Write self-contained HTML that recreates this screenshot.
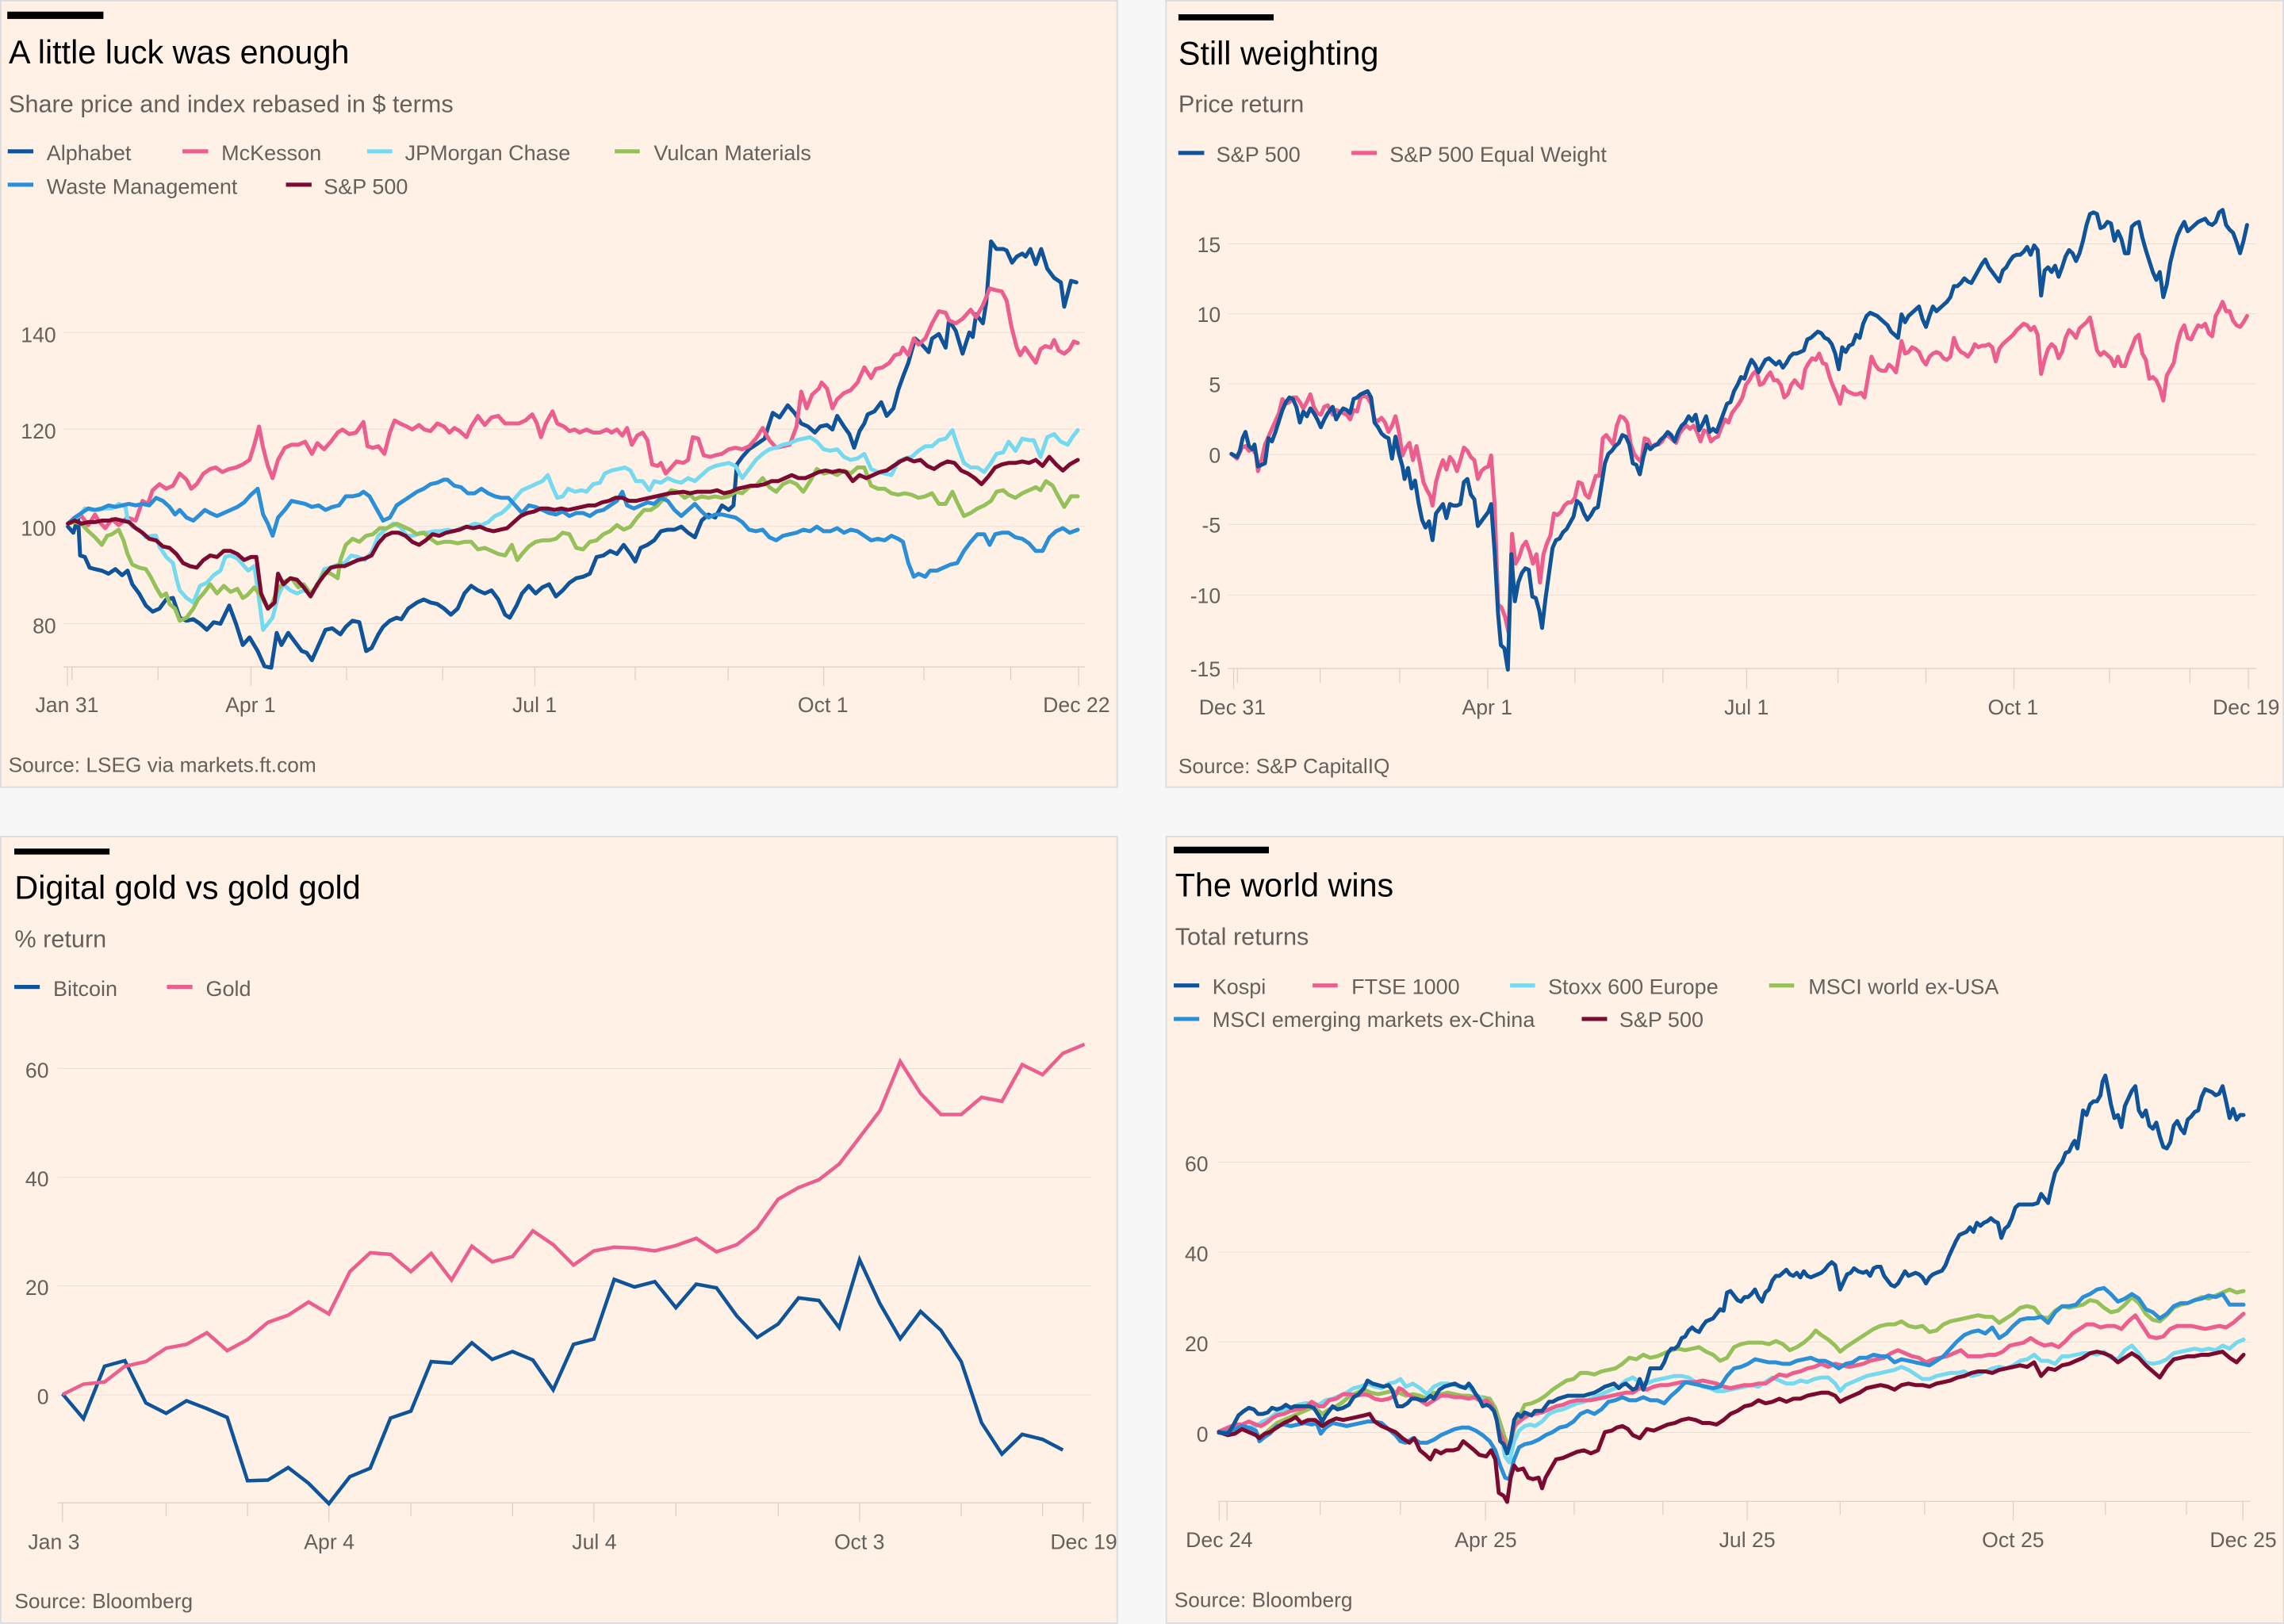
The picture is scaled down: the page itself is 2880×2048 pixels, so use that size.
<!DOCTYPE html>
<html>
<head>
<meta charset="utf-8">
<style>
html,body{margin:0;padding:0;background:#f7f7f7;}
body{width:2880px;height:2048px;overflow:hidden;}
svg{display:block;}
.t{font-family:"Liberation Sans",sans-serif;font-size:22.5px;fill:#000;}
.s{font-family:"Liberation Sans",sans-serif;font-size:16.7px;fill:#66605c;}
.l{font-family:"Liberation Sans",sans-serif;font-size:14.7px;fill:#66605c;}
.k{font-family:"Liberation Sans",sans-serif;font-size:14.5px;fill:#66605c;}
.src{font-family:"Liberation Sans",sans-serif;font-size:14.3px;fill:#66605c;}
.g{stroke:#eadfd5;stroke-width:1;vector-effect:non-scaling-stroke;fill:none;}
.ax{stroke:#dcd2c9;stroke-width:1.3;vector-effect:non-scaling-stroke;fill:none;}
.ln{fill:none;stroke-width:5;stroke-linejoin:round;stroke-linecap:round;vector-effect:non-scaling-stroke;}
.ln3{fill:none;stroke-width:4.5;stroke-linejoin:miter;stroke-linecap:butt;vector-effect:non-scaling-stroke;}
</style>
</head>
<body>
<svg width="2880" height="2048" viewBox="0 0 1568 1115" preserveAspectRatio="none" xmlns="http://www.w3.org/2000/svg">
<!-- panels -->
<rect x="0.5" y="0.5" width="766.5" height="540" fill="#fff1e5" stroke="#dcdcdc" stroke-width="1"/>
<rect x="800.5" y="0.5" width="767" height="540" fill="#fff1e5" stroke="#dcdcdc" stroke-width="1"/>
<rect x="0.5" y="574.4" width="766.5" height="540" fill="#fff1e5" stroke="#dcdcdc" stroke-width="1"/>
<rect x="800.7" y="574.4" width="767" height="540" fill="#fff1e5" stroke="#dcdcdc" stroke-width="1"/>

<!-- ================= PANEL 1 ================= -->
<rect x="5" y="8" width="66" height="5" fill="#000"/>
<text class="t" x="6" y="43.5">A little luck was enough</text>
<text class="s" x="6" y="77">Share price and index rebased in $ terms</text>
<rect x="5.3" y="102.5" width="17.6" height="2.8" fill="#0f5499"/><text class="l" x="32" y="110">Alphabet</text>
<rect x="125.3" y="102.5" width="17.6" height="2.8" fill="#eb5e8d"/><text class="l" x="152" y="110">McKesson</text>
<rect x="252" y="102.5" width="17.3" height="2.8" fill="#75d9f0"/><text class="l" x="278" y="110">JPMorgan Chase</text>
<rect x="422" y="102.5" width="17.2" height="2.8" fill="#96c15a"/><text class="l" x="448.8" y="110">Vulcan Materials</text>
<rect x="5.3" y="125.4" width="17.6" height="2.8" fill="#2a8fd6"/><text class="l" x="32" y="133">Waste Management</text>
<rect x="196.3" y="125.4" width="17.6" height="2.8" fill="#7a0a2f"/><text class="l" x="222.3" y="133">S&amp;P 500</text>

<path class="g" d="M43.4 228.3H745 M43.4 294.7H745 M43.4 361.4H745 M43.4 428.1H745"/>
<text class="k" x="38.5" y="234.8" text-anchor="end">140</text>
<text class="k" x="38.5" y="301.2" text-anchor="end">120</text>
<text class="k" x="38.5" y="367.9" text-anchor="end">100</text>
<text class="k" x="38.5" y="434.6" text-anchor="end">80</text>
<path class="ax" d="M43.4 457.9H745 M46.3 457.9V471 M49.4 457.9V467 M108.5 457.9V467 M172.3 457.9V471 M237.9 457.9V467 M303.9 457.9V467 M367.2 457.9V471 M436.1 457.9V467 M499.9 457.9V467 M565.5 457.9V471 M634.3 457.9V467 M693.9 457.9V467 M740.5 457.9V471"/>
<text class="k" x="46" y="489" text-anchor="middle">Jan 31</text>
<text class="k" x="172" y="489" text-anchor="middle">Apr 1</text>
<text class="k" x="367" y="489" text-anchor="middle">Jul 1</text>
<text class="k" x="565" y="489" text-anchor="middle">Oct 1</text>
<text class="k" x="739" y="489" text-anchor="middle">Dec 22</text>
<text class="src" x="5.8" y="530">Source: LSEG via markets.ft.com</text>

<g transform="matrix(0.4653,0,0,0.20834,32.667,147.0)">
<polyline class="ln" stroke="#0f5499" points="30,1030 38,1050 45,1000 48,1125 55,1130 62,1165 70,1170 80,1175 90,1185 100,1170 110,1190 118,1175 125,1220 135,1250 145,1290 155,1310 165,1300 175,1270 185,1265 195,1330 205,1340 215,1335 225,1350 235,1370 245,1345 255,1350 268,1290 278,1350 288,1420 298,1395 310,1440 320,1490 330,1495 338,1380 345,1420 355,1380 365,1410 375,1440 382,1445 390,1470 400,1420 410,1370 420,1365 432,1385 440,1360 450,1340 460,1345 470,1440 478,1430 488,1385 495,1360 505,1340 515,1330 522,1335 532,1300 545,1280 555,1270 565,1280 575,1285 585,1300 595,1320 605,1300 615,1250 625,1225 635,1240 645,1250 655,1240 665,1270 675,1320 682,1330 692,1290 700,1250 710,1225 720,1250 730,1230 740,1220 750,1260 760,1240 770,1215 780,1200 790,1195 800,1185 810,1130 820,1125 830,1110 840,1120 850,1090 860,1120 867,1145 875,1100 885,1090 895,1075 905,1045 915,1040 925,1040 935,1030 945,1050 955,1065 965,1010 975,990 985,1000 995,960 1005,975 1012,960 1017,825 1025,800 1035,775 1045,760 1058,740 1062,710 1070,655 1080,670 1092,630 1102,655 1112,690 1122,700 1132,720 1140,700 1150,695 1158,710 1165,665 1175,700 1183,725 1190,770 1198,715 1205,690 1210,660 1220,650 1230,620 1238,665 1248,640 1255,580 1263,530 1270,490 1280,410 1290,430 1300,455 1305,410 1315,395 1325,440 1330,350 1340,385 1350,460 1360,390 1365,405 1370,330 1380,360 1385,290 1392,90 1400,115 1410,115 1415,120 1423,160 1430,140 1438,130 1443,140 1450,115 1458,165 1466,115 1475,180 1485,210 1495,225 1500,305 1510,220 1518,225"/>
<polyline class="ln" stroke="#eb5e8d" points="30,1020 40,1000 50,995 60,1025 70,990 75,1010 85,1035 95,1005 105,1025 118,1000 130,1010 140,945 148,955 155,910 165,890 175,905 185,895 195,855 205,875 212,905 220,890 230,855 240,840 248,835 258,850 268,840 278,835 288,825 298,810 305,760 312,700 318,770 325,830 332,870 340,810 350,770 360,760 370,760 380,750 390,790 398,755 408,775 418,750 428,720 435,710 445,725 455,720 466,685 472,765 480,770 488,765 497,790 505,720 512,680 520,690 530,700 538,710 548,695 556,710 565,715 575,690 585,700 593,720 600,705 608,715 618,735 625,700 635,665 645,695 655,670 665,665 675,690 685,690 695,690 705,680 715,660 722,690 728,735 735,690 745,650 752,690 762,700 770,715 778,710 785,720 795,710 805,720 815,720 825,710 832,720 840,710 848,730 855,705 862,760 870,730 878,720 885,745 892,825 900,830 905,820 912,855 920,835 928,815 938,820 945,810 952,735 960,740 968,795 978,800 985,795 995,790 1005,775 1015,770 1025,775 1035,765 1045,740 1055,705 1065,745 1075,770 1085,765 1095,760 1105,700 1112,585 1120,640 1128,595 1138,575 1142,555 1150,575 1158,640 1165,610 1175,590 1185,580 1195,555 1205,505 1215,540 1222,510 1232,505 1242,490 1250,465 1258,460 1262,440 1270,465 1278,410 1285,430 1295,410 1305,360 1315,320 1325,325 1330,350 1340,360 1350,345 1362,315 1370,340 1380,300 1390,245 1398,250 1408,255 1415,285 1422,370 1430,440 1435,465 1442,440 1450,465 1458,490 1465,445 1472,435 1480,440 1485,415 1492,450 1500,460 1508,445 1514,420 1520,425"/>
<polyline class="ln" stroke="#75d9f0" points="30,1020 40,1005 50,985 55,970 65,975 75,975 85,970 95,970 105,955 115,965 118,1005 125,1030 135,1040 145,1065 155,1060 160,1060 165,1095 175,1130 185,1150 190,1200 195,1240 205,1265 215,1280 225,1225 235,1215 245,1190 255,1175 262,1130 270,1125 280,1135 288,1155 296,1175 305,1160 312,1270 318,1370 325,1350 332,1330 340,1260 348,1220 358,1240 368,1250 378,1240 388,1250 398,1225 408,1170 418,1165 428,1155 438,1150 448,1125 458,1130 468,1140 478,1115 488,1060 498,1040 510,1020 520,1030 530,1060 540,1060 550,1050 560,1050 570,1045 580,1045 590,1040 600,1045 610,1035 620,1030 630,1020 640,1025 650,1015 660,995 670,985 680,965 690,935 700,910 710,900 720,890 730,880 738,860 745,900 752,935 760,930 768,905 778,915 788,910 795,915 805,890 815,885 822,855 832,845 842,840 852,835 860,845 868,880 878,880 888,910 895,880 905,885 915,870 925,880 935,885 945,870 955,880 965,860 975,840 985,830 995,825 1005,820 1015,830 1025,870 1035,840 1045,810 1055,790 1065,775 1075,770 1085,760 1095,755 1105,745 1115,740 1125,735 1135,750 1145,775 1155,780 1165,775 1175,800 1185,810 1195,805 1205,790 1215,840 1225,850 1235,855 1245,860 1255,815 1265,805 1275,800 1285,780 1295,765 1305,765 1315,745 1325,740 1335,712 1342,760 1352,820 1362,835 1372,835 1382,850 1392,820 1400,790 1410,785 1418,750 1428,780 1438,740 1448,745 1455,745 1465,800 1475,735 1485,725 1495,750 1505,760 1512,735 1520,712"/>
<polyline class="ln" stroke="#96c15a" points="30,1020 40,1015 50,1020 60,1045 70,1065 80,1090 88,1060 95,1055 105,1040 112,1075 118,1120 125,1155 135,1165 145,1170 152,1195 160,1230 168,1260 175,1250 180,1285 188,1300 195,1340 205,1330 215,1300 222,1270 230,1250 240,1220 250,1250 260,1225 270,1245 280,1235 288,1265 295,1255 305,1230 315,1260 325,1300 330,1290 340,1235 350,1210 360,1200 370,1230 378,1220 388,1250 398,1225 408,1180 418,1185 428,1200 432,1140 440,1090 450,1070 460,1080 470,1060 480,1055 490,1035 500,1035 510,1025 515,1020 525,1030 535,1040 545,1055 555,1050 565,1070 575,1085 585,1080 595,1080 605,1085 615,1080 625,1080 635,1105 645,1100 655,1110 665,1120 675,1125 685,1090 693,1140 700,1120 710,1095 720,1080 730,1075 740,1075 750,1070 760,1050 770,1055 780,1100 790,1105 800,1080 810,1075 820,1055 830,1045 840,1025 850,1040 860,1030 870,1000 880,975 890,975 900,960 910,935 920,910 930,915 940,935 948,925 955,940 965,930 975,935 985,930 995,935 1005,930 1015,915 1025,920 1035,900 1045,895 1055,870 1065,900 1075,915 1085,890 1095,880 1105,890 1115,915 1125,880 1135,840 1145,855 1155,850 1165,860 1175,845 1185,855 1195,835 1205,835 1215,895 1225,905 1235,905 1245,920 1255,925 1265,920 1275,925 1285,935 1295,930 1305,920 1315,955 1325,955 1335,915 1342,950 1352,995 1362,985 1372,970 1382,960 1392,945 1400,915 1410,910 1418,925 1428,935 1438,920 1448,910 1458,900 1465,910 1473,880 1483,895 1490,925 1500,965 1510,930 1520,930"/>
<polyline class="ln" stroke="#2a8fd6" points="30,1020 40,1000 50,985 60,970 70,975 80,970 90,960 100,965 110,960 120,955 130,960 140,955 150,960 160,935 170,945 180,965 188,990 195,975 205,1000 215,1010 225,990 232,975 240,985 250,995 260,985 270,975 280,965 290,950 300,925 310,905 318,990 325,1020 332,1060 340,1000 350,975 360,945 370,950 380,955 390,965 400,960 410,975 420,965 430,960 440,930 450,930 460,925 466,915 475,930 485,970 495,1010 505,1000 515,960 525,945 535,930 545,915 555,905 565,890 575,885 585,875 590,875 600,895 610,900 620,920 630,920 640,905 650,920 660,930 670,935 680,935 690,960 700,985 710,960 720,965 730,975 740,985 750,990 760,980 770,995 780,985 790,985 800,995 810,980 820,975 830,960 840,945 848,915 855,960 865,970 875,960 885,950 895,955 905,935 915,945 925,975 935,995 945,975 955,955 965,980 975,1000 985,990 995,990 1005,995 1015,1000 1025,1015 1035,1040 1045,1045 1055,1040 1065,1065 1075,1075 1085,1060 1095,1055 1105,1050 1115,1040 1125,1045 1135,1030 1145,1045 1155,1045 1165,1035 1175,1050 1185,1040 1195,1045 1205,1060 1215,1075 1225,1070 1235,1075 1245,1060 1255,1070 1262,1080 1270,1150 1278,1195 1285,1185 1295,1195 1302,1175 1312,1175 1322,1165 1332,1155 1342,1150 1352,1110 1362,1080 1372,1055 1382,1055 1390,1090 1398,1055 1408,1050 1418,1050 1428,1065 1438,1070 1448,1085 1458,1110 1468,1110 1478,1065 1488,1045 1498,1035 1508,1050 1520,1040"/>
<polyline class="ln" stroke="#7a0a2f" points="30,1020 40,1010 50,1020 60,1015 70,1015 80,1010 90,1010 100,1005 110,1010 120,1015 130,1035 140,1050 150,1070 160,1075 170,1095 180,1100 190,1120 200,1150 210,1160 220,1165 230,1140 240,1125 250,1130 260,1110 270,1110 280,1120 290,1140 300,1130 308,1130 315,1250 325,1300 335,1280 340,1185 348,1220 358,1200 368,1205 378,1230 388,1260 398,1220 408,1190 418,1165 428,1160 438,1160 448,1150 458,1140 468,1135 478,1125 488,1085 498,1060 508,1050 518,1050 528,1060 538,1080 548,1090 558,1075 568,1055 578,1060 588,1050 598,1045 608,1040 618,1030 628,1035 638,1030 648,1040 658,1045 668,1040 678,1035 688,1015 698,995 708,985 718,980 728,970 738,970 748,975 758,970 768,975 778,970 788,965 798,960 808,960 818,950 828,945 838,935 848,935 858,945 868,945 878,940 888,935 898,930 908,925 918,920 928,918 938,915 948,920 958,915 968,915 978,915 988,910 998,920 1008,915 1018,905 1028,900 1038,895 1048,895 1058,890 1068,880 1078,880 1088,870 1098,860 1108,870 1118,870 1128,860 1138,850 1148,845 1158,850 1168,845 1178,850 1188,880 1198,860 1208,870 1218,860 1228,850 1238,845 1248,830 1258,815 1268,805 1278,815 1288,810 1298,830 1308,840 1318,825 1328,815 1338,820 1348,845 1358,855 1368,870 1378,890 1388,865 1398,835 1408,825 1418,820 1428,820 1438,815 1448,820 1458,810 1468,830 1478,800 1488,825 1498,845 1508,825 1520,810"/>
</g>

<!-- ================= PANEL 2 ================= -->
<rect x="809" y="9.8" width="65.4" height="4.2" fill="#000"/>
<text class="t" x="809" y="44.5">Still weighting</text>
<text class="s" x="809" y="77.1">Price return</text>
<rect x="808.9" y="103.6" width="17.8" height="2.8" fill="#0f5499"/><text class="l" x="835" y="111">S&amp;P 500</text>
<rect x="927.8" y="103.6" width="17.4" height="2.8" fill="#eb5e8d"/><text class="l" x="954" y="111">S&amp;P 500 Equal Weight</text>

<path class="g" d="M843 167.4H1549 M843 215.4H1549 M843 263.6H1549 M843 312.1H1549 M843 360.1H1549 M843 408.5H1549"/>
<text class="k" x="838" y="173" text-anchor="end">15</text>
<text class="k" x="838" y="221" text-anchor="end">10</text>
<text class="k" x="838" y="269.2" text-anchor="end">5</text>
<text class="k" x="838" y="317.7" text-anchor="end">0</text>
<text class="k" x="838" y="365.7" text-anchor="end">-5</text>
<text class="k" x="838" y="414.1" text-anchor="end">-10</text>
<text class="k" x="838" y="464.3" text-anchor="end">-15</text>
<path class="ax" d="M843 459H1549 M846.9 459V473 M849.5 459V469 M906.3 459V469 M960.9 459V469 M1021.3 459V473 M1081.2 459V469 M1141.6 459V469 M1199.1 459V473 M1261.8 459V469 M1322.2 459V469 M1382.6 459V473 M1448.2 459V469 M1503.4 459V469 M1543.6 459V473"/>
<text class="k" x="846" y="490.5" text-anchor="middle">Dec 31</text>
<text class="k" x="1021" y="490.5" text-anchor="middle">Apr 1</text>
<text class="k" x="1199" y="490.5" text-anchor="middle">Jul 1</text>
<text class="k" x="1382" y="490.5" text-anchor="middle">Oct 1</text>
<text class="k" x="1542" y="490.5" text-anchor="middle">Dec 19</text>
<text class="src" x="809" y="530.8">Source: S&amp;P CapitalIQ</text>

<g transform="matrix(0.47918,0,0,0.21528,816.67,141.56)">
<polyline class="ln" stroke="#eb5e8d" points="60,790 68,805 75,770 80,765 85,780 90,775 95,790 98,845 103,810 108,760 113,735 118,710 123,685 128,660 133,615 138,630 143,625 148,610 153,610 158,625 163,645 168,625 173,600 178,640 183,660 188,665 193,640 198,635 205,665 210,650 215,655 220,660 225,665 230,680 235,650 240,655 245,610 250,605 255,610 260,630 265,680 270,685 275,675 280,690 285,720 290,700 295,670 300,720 305,795 310,770 315,755 320,810 325,765 330,820 335,880 340,905 345,925 348,955 353,880 358,840 363,810 368,840 373,800 378,815 383,845 388,810 393,770 398,780 403,800 408,810 413,870 418,845 423,835 428,830 432,795 437,950 442,1270 447,1280 452,1310 457,1360 462,1045 467,1140 472,1120 477,1085 482,1070 487,1100 492,1140 497,1110 502,1200 507,1110 512,1075 517,1050 522,980 527,985 532,975 537,955 542,945 547,945 552,930 557,880 562,885 567,920 572,930 577,895 582,860 587,860 592,740 597,730 602,745 607,760 612,700 617,670 622,675 627,690 632,760 637,790 642,805 647,815 652,740 657,745 662,770 667,760 672,760 677,750 682,730 687,735 692,745 697,755 702,725 707,710 712,700 717,710 722,700 727,720 732,750 737,715 742,720 747,750 752,740 757,735 762,705 767,680 772,690 777,660 782,645 787,630 792,610 797,570 802,555 807,535 812,525 817,570 822,565 827,545 832,530 837,555 842,555 847,570 852,610 857,600 862,570 867,555 872,570 877,580 882,520 887,500 892,485 897,490 902,470 907,500 912,505 917,545 922,575 927,600 932,630 937,575 942,590 947,595 952,600 957,600 962,595 967,610 972,545 977,480 982,505 987,520 992,525 997,525 1002,505 1007,515 1012,530 1017,470 1020,430 1025,470 1030,465 1035,450 1040,455 1045,465 1050,490 1055,505 1060,480 1065,470 1070,465 1075,470 1080,485 1085,490 1090,480 1095,420 1100,450 1105,465 1110,470 1115,480 1120,465 1125,440 1130,450 1135,445 1140,445 1145,440 1150,450 1155,495 1160,455 1165,440 1170,430 1175,420 1180,410 1185,395 1190,385 1195,375 1200,380 1205,395 1210,385 1215,410 1220,535 1225,490 1230,455 1235,440 1240,450 1245,485 1250,465 1255,420 1260,395 1265,405 1270,420 1275,390 1280,380 1285,370 1290,355 1295,405 1300,460 1305,475 1310,465 1315,475 1320,485 1325,510 1330,480 1335,510 1340,510 1345,475 1350,450 1355,420 1360,410 1365,470 1370,490 1375,550 1380,545 1385,555 1390,580 1395,620 1400,540 1405,520 1410,500 1415,440 1420,400 1425,380 1430,420 1435,425 1440,400 1445,380 1450,385 1455,375 1460,405 1465,415 1470,350 1475,330 1480,305 1485,335 1490,335 1495,365 1500,380 1505,385 1510,370 1515,350"/>
<polyline class="ln" stroke="#0f5499" points="60,790 68,800 72,780 76,740 80,720 85,765 90,775 93,760 98,830 103,825 108,820 113,740 118,750 123,720 128,685 133,650 138,625 143,610 148,615 153,640 158,690 163,655 168,670 173,645 178,660 183,680 188,705 193,680 198,660 205,640 210,680 215,660 220,645 225,650 230,660 235,615 240,610 245,600 250,595 255,590 260,610 265,690 270,705 275,725 280,735 285,740 290,805 295,735 300,790 305,830 308,870 313,835 318,900 323,875 328,945 333,1000 338,1025 343,1005 348,1065 353,980 358,965 363,950 368,995 373,950 378,955 383,955 388,950 393,880 398,870 403,920 408,935 413,1020 418,1005 423,990 428,975 432,950 437,1100 442,1300 446,1400 451,1410 456,1478 461,1110 466,1260 471,1200 476,1170 481,1155 486,1160 491,1245 496,1250 501,1290 505,1345 510,1250 515,1170 520,1090 525,1065 530,1060 535,1040 540,1030 545,1010 550,990 555,940 560,950 565,980 570,1000 575,985 580,965 585,960 590,890 595,820 600,790 605,780 610,765 615,755 620,730 625,735 630,760 635,820 640,825 645,855 650,800 655,760 660,775 665,765 670,760 675,745 680,735 685,720 690,730 695,750 700,720 705,700 710,690 715,670 720,685 725,665 730,715 735,695 740,670 745,720 750,710 755,720 760,690 765,660 770,630 775,625 780,590 785,570 790,545 795,550 800,515 805,490 810,505 815,530 820,510 825,490 830,485 835,495 840,505 845,495 850,515 855,500 860,480 865,470 870,470 875,465 880,460 885,425 890,420 895,410 900,400 905,405 910,420 915,425 920,440 925,470 930,520 935,450 940,465 945,445 950,440 955,410 960,420 965,375 970,350 975,340 980,345 985,350 990,360 995,370 1000,380 1005,400 1010,410 1015,420 1020,345 1025,370 1030,350 1035,340 1040,330 1045,320 1050,360 1055,385 1060,350 1065,320 1070,335 1075,325 1080,315 1085,305 1090,290 1095,255 1100,255 1105,245 1110,230 1115,240 1120,245 1125,225 1130,205 1135,185 1140,170 1145,195 1150,210 1155,225 1160,240 1165,205 1170,195 1175,175 1180,160 1185,155 1190,155 1195,145 1200,130 1205,155 1210,125 1215,140 1220,285 1225,205 1230,195 1235,210 1240,190 1245,225 1250,195 1255,160 1260,140 1265,150 1270,175 1275,150 1280,110 1285,60 1290,25 1295,20 1300,25 1305,70 1310,65 1315,50 1320,55 1325,110 1330,80 1335,105 1340,150 1345,150 1350,65 1355,55 1360,50 1365,100 1370,140 1375,175 1380,210 1385,235 1390,210 1395,290 1400,250 1405,180 1410,135 1415,95 1420,70 1425,50 1430,80 1435,70 1440,60 1445,50 1450,45 1455,40 1460,55 1465,60 1470,50 1475,20 1480,12 1485,60 1490,75 1495,85 1500,115 1505,150 1510,110 1515,60"/>
</g>

<!-- ================= PANEL 3 ================= -->
<rect x="9.8" y="582.6" width="65.4" height="4.1" fill="#000"/>
<text class="t" x="10" y="617">Digital gold vs gold gold</text>
<text class="s" x="10" y="650.3">% return</text>
<rect x="9.8" y="676.2" width="17.5" height="2.8" fill="#0f5499"/><text class="l" x="36.5" y="683.8">Bitcoin</text>
<rect x="114.6" y="676.2" width="17.5" height="2.8" fill="#eb5e8d"/><text class="l" x="141.3" y="683.8">Gold</text>

<path class="g" d="M39.6 733.6H749.2 M39.6 808.3H749.2 M39.6 882.8H749.2 M39.6 957.7H749.2"/>
<text class="k" x="33.5" y="739.8" text-anchor="end">60</text>
<text class="k" x="33.5" y="814.5" text-anchor="end">40</text>
<text class="k" x="33.5" y="889" text-anchor="end">20</text>
<text class="k" x="33.5" y="963.9" text-anchor="end">0</text>
<path class="ax" d="M39.6 1031.8H749.2 M42.9 1031.8V1045 M114.1 1031.8V1041 M169.9 1031.8V1041 M225.8 1031.8V1045 M282.1 1031.8V1041 M351.9 1031.8V1041 M407.7 1031.8V1045 M464 1031.8V1041 M534.3 1031.8V1041 M590.1 1031.8V1045 M659.9 1031.8V1041 M715.7 1031.8V1041 M743.6 1031.8V1045"/>
<text class="k" x="37" y="1063.5" text-anchor="middle">Jan 3</text>
<text class="k" x="226" y="1063.5" text-anchor="middle">Apr 4</text>
<text class="k" x="408" y="1063.5" text-anchor="middle">Jul 4</text>
<text class="k" x="590" y="1063.5" text-anchor="middle">Oct 3</text>
<text class="k" x="744" y="1063.5" text-anchor="middle">Dec 19</text>
<text class="src" x="10" y="1104">Source: Bloomberg</text>

<g transform="matrix(0.4653,0,0,0.21528,32.667,702.33)">
<polyline class="ln3" stroke="#0f5499" points="22,1183 53,1262 84,1095 114,1077 145,1212 175,1245 205,1205 235,1230 265,1258 295,1460 325,1458 355,1418 385,1468 415,1533 446,1447 476,1420 506,1260 536,1238 566,1080 596,1085 626,1020 656,1073 686,1048 716,1075 746,1170 776,1025 806,1008 836,818 866,842 896,825 927,908 957,833 987,845 1017,935 1047,1003 1078,960 1108,877 1138,885 1168,972 1198,755 1228,895 1258,1007 1288,920 1318,980 1348,1080 1378,1275 1408,1375 1438,1312 1468,1328 1498,1362"/>
<polyline class="ln3" stroke="#eb5e8d" points="22,1185 53,1152 84,1145 114,1095 145,1080 175,1037 205,1025 235,988 265,1045 295,1010 325,955 355,932 385,890 415,928 446,793 476,733 506,738 536,793 566,735 596,820 626,712 656,762 686,745 716,663 746,707 776,772 806,727 836,715 866,718 896,727 927,710 957,687 987,730 1017,707 1047,655 1078,562 1108,525 1138,500 1168,450 1198,365 1228,280 1258,123 1288,225 1318,292 1348,292 1378,237 1408,250 1438,133 1468,165 1498,97 1530,68"/>
</g>

<!-- ================= PANEL 4 ================= -->
<rect x="805.8" y="581.3" width="65.3" height="4.6" fill="#000"/>
<text class="t" x="806.7" y="615.6">The world wins</text>
<text class="s" x="806.7" y="648.8">Total returns</text>
<rect x="805.8" y="675.2" width="17.5" height="2.8" fill="#0f5499"/><text class="l" x="832.3" y="682.4">Kospi</text>
<rect x="901.1" y="675.2" width="17.2" height="2.8" fill="#eb5e8d"/><text class="l" x="927.8" y="682.4">FTSE 1000</text>
<rect x="1036.7" y="675.2" width="17.2" height="2.8" fill="#75d9f0"/><text class="l" x="1062.8" y="682.4">Stoxx 600 Europe</text>
<rect x="1214.5" y="675.2" width="17.2" height="2.8" fill="#96c15a"/><text class="l" x="1241.5" y="682.4">MSCI world ex-USA</text>
<rect x="805.8" y="698.2" width="17.5" height="2.8" fill="#2a8fd6"/><text class="l" x="832.3" y="705">MSCI emerging markets ex-China</text>
<rect x="1085.9" y="698.2" width="17.4" height="2.8" fill="#7a0a2f"/><text class="l" x="1111.7" y="705">S&amp;P 500</text>

<path class="g" d="M835.9 797.9H1545 M835.9 859.7H1545 M835.9 921.4H1545 M835.9 983.5H1545"/>
<text class="k" x="829.5" y="804.1" text-anchor="end">60</text>
<text class="k" x="829.5" y="865.9" text-anchor="end">40</text>
<text class="k" x="829.5" y="927.6" text-anchor="end">20</text>
<text class="k" x="829.5" y="989.7" text-anchor="end">0</text>
<path class="ax" d="M835.9 1030.8H1545 M837 1030.8V1044 M842.4 1030.8V1044 M906.3 1030.8V1040 M961.4 1030.8V1040 M1019.8 1030.8V1044 M1080.7 1030.8V1040 M1141.6 1030.8V1040 M1199.5 1030.8V1044 M1263.3 1030.8V1040 M1321.3 1030.8V1040 M1382.1 1030.8V1044 M1445.4 1030.8V1040 M1501 1030.8V1040 M1539.8 1030.8V1044"/>
<text class="k" x="837" y="1062.2" text-anchor="middle">Dec 24</text>
<text class="k" x="1020" y="1062.2" text-anchor="middle">Apr 25</text>
<text class="k" x="1199.5" y="1062.2" text-anchor="middle">Jul 25</text>
<text class="k" x="1382" y="1062.2" text-anchor="middle">Oct 25</text>
<text class="k" x="1540" y="1062.2" text-anchor="middle">Dec 25</text>
<text class="src" x="806.2" y="1103.4">Source: Bloomberg</text>

<g transform="matrix(0.47918,0,0,0.20834,816.67,718.67)">
<polyline class="ln" stroke="#96c15a" points="42,1270 55,1265 65,1255 75,1255 85,1260 95,1270 100,1285 108,1275 115,1260 125,1240 135,1230 145,1220 155,1210 165,1200 175,1190 185,1200 190,1210 200,1195 210,1185 220,1170 230,1150 240,1140 250,1130 260,1140 270,1145 280,1140 290,1135 300,1140 310,1150 320,1145 330,1150 340,1160 350,1140 360,1145 370,1140 380,1145 390,1150 400,1150 410,1155 420,1155 430,1160 438,1190 445,1240 452,1290 458,1320 465,1260 472,1220 480,1180 490,1175 500,1165 510,1150 520,1130 530,1115 540,1100 550,1095 560,1075 570,1075 580,1080 590,1070 600,1065 610,1060 620,1045 630,1025 640,1030 650,1015 660,1025 670,1020 680,1010 690,1000 700,995 710,1000 720,995 730,990 740,1005 750,1015 760,1035 770,1025 780,990 790,980 800,975 810,975 820,975 830,980 840,970 850,980 860,1000 870,990 880,975 890,955 897,935 905,950 915,965 925,985 932,1005 940,990 950,975 960,960 970,945 980,930 990,920 1000,915 1010,915 1020,905 1030,920 1040,925 1050,920 1060,940 1070,935 1080,915 1090,905 1100,900 1110,895 1120,890 1130,885 1140,890 1150,890 1160,910 1170,895 1180,880 1190,860 1200,855 1210,860 1220,890 1230,895 1240,870 1250,855 1260,860 1270,855 1280,850 1290,835 1300,840 1310,860 1320,875 1330,870 1340,850 1350,825 1360,845 1370,880 1380,900 1390,905 1400,885 1410,860 1420,850 1430,845 1440,835 1450,825 1460,830 1470,820 1480,810 1490,800 1500,810 1510,805"/>
<polyline class="ln" stroke="#75d9f0" points="42,1270 55,1265 65,1250 75,1250 85,1255 95,1250 105,1235 115,1225 125,1205 135,1195 145,1190 155,1180 165,1175 175,1175 185,1180 195,1165 205,1160 215,1150 225,1140 235,1125 245,1120 255,1110 265,1120 275,1125 285,1110 295,1105 302,1095 310,1120 320,1110 330,1125 340,1145 350,1120 360,1110 370,1110 380,1115 390,1120 400,1120 410,1145 420,1160 430,1175 438,1210 445,1270 452,1350 458,1370 465,1300 472,1265 480,1250 488,1245 495,1250 505,1235 515,1210 525,1200 535,1195 545,1185 555,1175 565,1170 575,1160 585,1150 595,1140 605,1130 615,1120 625,1100 635,1090 645,1105 655,1110 665,1100 675,1095 685,1090 695,1085 705,1085 715,1090 725,1105 735,1120 745,1125 755,1135 765,1135 775,1130 785,1125 795,1120 805,1115 815,1120 825,1105 835,1090 845,1100 855,1110 865,1110 875,1100 885,1105 895,1095 905,1090 915,1090 925,1110 932,1135 940,1115 950,1105 960,1095 970,1085 980,1080 990,1075 1000,1070 1010,1065 1020,1055 1030,1065 1040,1080 1050,1095 1060,1095 1070,1085 1080,1080 1090,1075 1100,1075 1110,1070 1120,1085 1130,1080 1140,1070 1150,1060 1160,1055 1170,1060 1180,1050 1190,1035 1200,1030 1210,1015 1220,1035 1230,1035 1240,1045 1250,1020 1260,1020 1270,1015 1280,1010 1290,1010 1300,1015 1310,1005 1320,1025 1330,1030 1340,1000 1350,985 1360,1010 1370,1040 1380,1045 1390,1040 1400,1030 1410,1010 1420,1005 1430,1000 1440,995 1450,1000 1460,995 1470,1000 1480,985 1490,995 1500,975 1510,965"/>
<polyline class="ln" stroke="#eb5e8d" points="42,1268 55,1255 65,1245 75,1245 85,1235 95,1245 102,1250 110,1240 118,1225 125,1215 135,1210 145,1200 155,1195 165,1190 175,1170 185,1185 192,1185 200,1165 210,1160 220,1145 230,1145 240,1150 250,1145 258,1150 265,1160 275,1165 285,1160 295,1150 300,1125 305,1130 312,1145 320,1155 330,1165 340,1180 350,1165 360,1150 370,1150 380,1155 390,1155 400,1160 408,1155 415,1165 420,1170 425,1165 432,1180 438,1210 443,1260 450,1300 455,1330 460,1300 465,1250 470,1240 478,1225 485,1215 495,1210 505,1205 515,1195 525,1185 535,1180 545,1170 555,1165 565,1165 575,1165 585,1160 595,1155 605,1150 615,1145 625,1140 635,1140 645,1125 655,1130 665,1120 675,1115 685,1115 695,1110 705,1105 715,1105 725,1105 735,1100 745,1105 755,1110 765,1120 775,1125 785,1120 795,1115 805,1115 815,1110 825,1110 835,1095 845,1080 855,1085 865,1075 875,1070 885,1060 895,1055 905,1045 915,1055 925,1045 935,1050 945,1055 955,1050 965,1045 975,1035 985,1030 995,1025 1005,1010 1015,1000 1025,1010 1035,1020 1045,1025 1055,1040 1065,1030 1075,1025 1085,1020 1095,1010 1105,1000 1115,1020 1125,1020 1135,1020 1145,1015 1155,1015 1165,1005 1175,985 1185,980 1195,975 1205,960 1215,975 1225,985 1235,980 1245,990 1255,970 1265,945 1275,930 1285,915 1295,915 1305,925 1315,920 1325,920 1335,930 1345,905 1355,885 1365,920 1375,955 1385,960 1395,955 1405,930 1415,920 1425,920 1435,920 1445,925 1455,930 1465,925 1475,920 1485,925 1495,910 1505,890 1510,880"/>
<polyline class="ln" stroke="#2a8fd6" points="42,1270 55,1270 65,1260 75,1250 85,1255 95,1265 100,1300 108,1285 115,1275 125,1250 135,1245 145,1250 155,1245 165,1240 175,1245 182,1240 188,1275 195,1255 205,1240 215,1245 225,1250 235,1245 245,1240 255,1235 265,1235 275,1240 285,1260 295,1280 302,1300 310,1305 320,1290 330,1305 340,1305 350,1295 360,1280 370,1270 380,1260 390,1255 400,1255 410,1265 420,1280 430,1300 438,1330 445,1380 452,1420 458,1425 465,1360 472,1320 480,1310 490,1305 500,1295 510,1280 520,1270 530,1255 540,1250 550,1235 560,1210 570,1200 580,1210 590,1195 600,1170 610,1165 620,1155 630,1165 640,1165 650,1155 660,1165 670,1165 680,1175 690,1150 700,1130 710,1105 720,1110 730,1115 740,1120 750,1125 760,1120 770,1085 780,1060 790,1055 800,1045 810,1030 820,1035 830,1040 840,1040 850,1045 860,1045 870,1035 880,1030 890,1025 900,1035 910,1035 920,1045 930,1060 940,1045 950,1040 960,1025 970,1025 980,1015 990,1020 1000,1020 1010,1040 1020,1030 1030,1035 1040,1040 1050,1045 1060,1050 1070,1035 1080,1020 1090,995 1100,970 1110,950 1120,940 1130,935 1140,945 1150,925 1160,960 1170,945 1180,920 1190,900 1200,895 1210,895 1220,890 1230,910 1240,875 1250,855 1260,855 1270,850 1280,825 1290,815 1300,800 1310,795 1320,815 1330,840 1340,830 1350,815 1360,830 1370,865 1380,875 1390,895 1400,880 1410,855 1420,845 1430,845 1440,835 1450,830 1460,820 1470,825 1480,815 1490,850 1500,850 1510,850"/>
<polyline class="ln" stroke="#7a0a2f" points="42,1270 55,1280 65,1275 75,1260 85,1270 95,1280 100,1290 108,1275 115,1270 125,1255 135,1240 145,1230 152,1220 160,1240 170,1230 180,1230 190,1250 200,1235 210,1225 220,1230 230,1225 240,1220 250,1215 258,1210 265,1235 275,1250 285,1260 295,1270 305,1290 315,1305 322,1290 330,1330 338,1345 345,1360 352,1330 360,1340 368,1330 378,1330 385,1325 392,1300 400,1315 408,1330 415,1345 425,1350 432,1330 438,1360 443,1470 450,1480 455,1500 460,1420 465,1380 470,1395 478,1390 485,1420 492,1425 500,1420 505,1455 510,1420 515,1400 520,1380 525,1360 535,1355 545,1345 555,1335 565,1330 575,1340 585,1330 590,1300 595,1270 605,1265 612,1255 620,1250 628,1260 635,1280 645,1290 655,1260 665,1265 675,1255 685,1245 695,1240 705,1230 715,1225 725,1230 735,1240 745,1240 755,1245 765,1230 775,1210 785,1200 795,1185 805,1180 815,1165 825,1175 835,1170 845,1160 855,1170 865,1160 875,1160 885,1150 895,1145 905,1140 915,1140 925,1150 932,1170 940,1160 950,1150 960,1140 970,1125 980,1120 990,1115 1000,1120 1010,1130 1020,1115 1030,1110 1040,1115 1050,1115 1060,1120 1070,1110 1080,1105 1090,1100 1100,1090 1110,1085 1120,1075 1130,1070 1140,1070 1150,1075 1160,1065 1170,1060 1180,1055 1190,1050 1200,1055 1210,1040 1220,1085 1230,1060 1240,1065 1250,1050 1260,1045 1270,1035 1280,1025 1290,1010 1300,1005 1310,1010 1320,1020 1330,1040 1340,1025 1350,1010 1360,1025 1370,1050 1380,1070 1390,1090 1400,1055 1410,1030 1420,1025 1430,1020 1440,1020 1450,1015 1460,1015 1470,1010 1480,1005 1490,1025 1500,1040 1510,1015"/>
<polyline class="ln" stroke="#0f5499" points="42,1272 55,1275 62,1250 70,1215 78,1200 85,1190 92,1195 98,1210 105,1210 112,1205 118,1190 125,1195 132,1190 138,1180 145,1190 150,1185 158,1185 165,1185 172,1185 178,1190 185,1215 190,1235 195,1215 200,1200 205,1185 212,1195 220,1190 228,1180 235,1155 242,1145 250,1125 255,1100 262,1110 270,1115 278,1120 285,1115 290,1130 298,1185 305,1185 312,1175 318,1160 325,1160 332,1165 338,1165 345,1150 350,1160 358,1130 365,1120 372,1115 380,1110 388,1120 395,1125 400,1110 405,1125 410,1145 415,1160 420,1185 425,1180 430,1185 436,1200 440,1230 445,1300 450,1310 455,1340 460,1300 465,1230 470,1210 475,1220 480,1205 485,1210 490,1215 495,1200 500,1200 505,1200 510,1185 515,1170 520,1170 528,1160 535,1155 542,1150 550,1150 558,1150 565,1150 572,1145 580,1140 588,1130 595,1120 602,1115 608,1110 615,1125 620,1115 625,1110 630,1120 635,1130 640,1125 645,1095 650,1130 655,1100 660,1060 668,1060 675,1060 680,1040 685,1010 690,995 695,995 700,985 705,960 710,955 715,935 720,925 725,935 730,940 735,920 740,905 745,900 750,895 755,880 760,865 765,870 770,810 775,805 780,820 785,835 790,840 795,825 800,825 805,815 810,800 815,825 820,840 825,810 830,800 835,770 840,755 845,755 850,745 855,735 860,750 865,755 870,745 875,760 880,740 885,755 890,760 895,755 900,750 905,745 910,735 915,720 920,710 925,720 932,800 937,775 942,750 947,745 952,730 958,740 965,745 970,740 975,755 980,730 985,725 990,725 995,755 1000,770 1005,785 1010,790 1015,780 1020,760 1025,740 1030,755 1035,750 1040,745 1045,750 1050,760 1055,780 1060,760 1065,750 1070,745 1078,738 1083,720 1088,690 1093,665 1098,640 1103,620 1108,615 1113,610 1118,595 1123,610 1128,580 1133,590 1138,580 1143,575 1148,565 1153,575 1158,580 1163,630 1168,600 1173,590 1178,565 1183,530 1188,520 1195,520 1202,520 1208,520 1215,515 1220,485 1225,500 1230,515 1235,460 1240,415 1245,395 1250,380 1255,350 1260,345 1265,320 1268,310 1272,335 1276,275 1280,210 1285,225 1290,190 1295,180 1300,180 1305,160 1308,115 1312,95 1316,140 1320,190 1325,235 1330,225 1335,265 1340,195 1345,170 1350,145 1355,130 1360,210 1365,230 1370,210 1375,260 1380,270 1385,250 1390,295 1395,330 1400,335 1405,315 1410,260 1415,245 1420,270 1425,285 1430,240 1435,230 1440,215 1445,210 1450,165 1455,140 1460,145 1465,150 1470,160 1475,155 1480,130 1485,180 1490,235 1495,205 1500,240 1505,225 1510,225"/>
</g>
</svg>
</body>
</html>
